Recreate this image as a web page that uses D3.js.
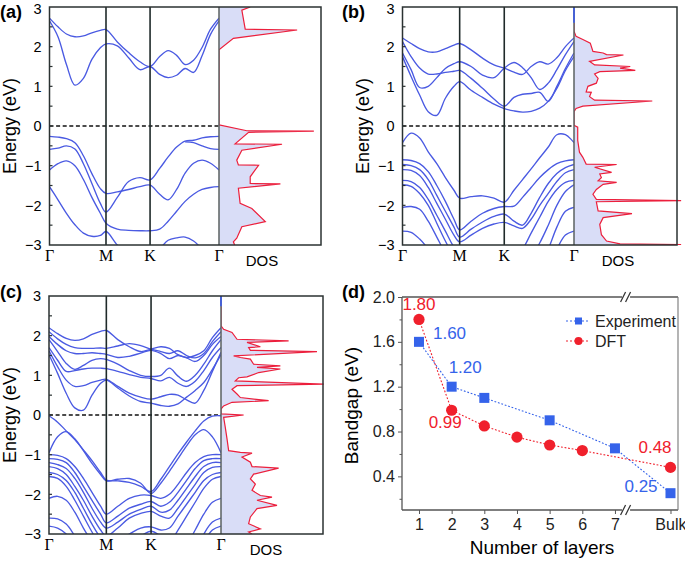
<!DOCTYPE html>
<html><head><meta charset="utf-8">
<script src="https://cdn.jsdelivr.net/npm/d3@7"></script>
<style>body{margin:0;background:#fff}svg{display:block}</style>
</head><body>
<svg id="chart" width="685" height="561"></svg>
<script>
// ---------------- DATA ----------------
const kNodes = [0, 1, 1.78, 3];
const kLabels = ["Γ", "M", "K", "Γ"];
const kGrid = [0,0.15,0.3,0.45,0.6,0.75,0.9,1.0,1.2,1.4,1.6,1.78,1.95,2.1,2.25,2.4,2.55,2.7,2.85,3.0];
const energyTicks = [3,2,1,0,-1,-2,-3];
const N = null;

// (a) monolayer bands
const bandsA = [
  [2.65,2.25,1.55,1.03,1.2,1.68,1.97,2.07,2.02,1.72,1.42,1.5,1.3,1.22,1.28,1.45,1.35,1.77,2.31,2.65],
  [2.72,2.5,2.32,2.25,2.27,2.35,2.41,2.43,2.12,1.85,1.62,1.5,1.75,1.9,1.78,1.55,1.66,1.98,2.44,2.72],
  [-0.26,-0.28,-0.32,-0.42,-0.75,-1.2,-1.58,-1.7,-1.66,-1.6,-1.53,-1.49,-1.72,-1.86,-1.6,-1.19,-0.94,-0.86,-0.94,-1.11],
  [-0.59,-0.56,-0.5,-0.58,-0.95,-1.45,-1.95,-2.17,-1.8,-1.4,-1.3,-1.36,-1.07,-0.78,-0.53,-0.38,-0.36,-0.3,-0.27,-0.26],
  [N,N,N,N,N,N,N,N,N,N,N,N,N,N,N,-0.4,-0.42,-0.5,-0.57,-0.59],
  [-1.11,-0.95,-0.88,-1.0,-1.35,-1.8,-2.2,-2.45,-2.6,-2.63,-2.64,-2.64,-2.6,-2.4,-2.15,-1.9,-1.72,-1.6,-1.55,-1.53],
  [-1.53,-1.86,-2.2,-2.49,-2.7,-2.78,-2.76,-2.66,-3.0,-3.25,-3.3,-3.3,-3.1,-2.88,-2.82,-2.8,-2.9,-3.1,-3.3,-3.4]
];
const dosEA = [3.0,2.92,2.44,2.42,2.21,1.92,0.03,-0.12,-0.13,-0.16,-0.45,-0.46,-0.61,-0.86,-0.98,-0.99,-1.28,-1.45,-1.46,-1.57,-1.95,-2.08,-2.41,-2.54,-2.83,-2.92,-3.03];
const dosVA = [30.6,22.4,25.7,76.6,14.1,0,0,27.3,93,29,15.8,61.8,22.4,17.4,19,38.8,30.6,30.6,60.2,19,20.7,32.2,45.4,22.4,17.4,14.1,15.8];

// (b) bilayer bands
const bandsB = [
  [2.22,2.08,1.95,1.87,1.87,1.95,2.04,2.08,1.92,1.71,1.54,1.46,1.36,1.3,1.5,1.62,1.56,1.72,2.0,2.22],
  [2.13,1.75,1.46,1.31,1.31,1.35,1.38,1.4,1.2,0.95,0.68,0.5,0.72,0.8,0.82,0.85,0.62,1.0,1.45,1.84],
  [1.84,1.42,0.97,1.0,1.22,1.45,1.57,1.62,1.5,1.28,1.22,1.46,1.6,1.47,1.22,0.92,1.08,1.42,1.8,2.13],
  [1.75,1.25,0.78,0.36,0.27,0.7,1.0,1.12,0.9,0.72,0.55,0.44,0.38,0.35,0.37,0.45,0.62,0.95,1.4,1.75],
  [-0.42,-0.18,-0.3,-0.65,-0.95,-1.3,-1.62,-1.82,-1.78,-1.76,-1.82,-1.92,-1.62,-1.35,-1.08,-0.8,-0.53,-0.22,-0.22,-0.42],
  [-0.85,-0.87,-0.95,-1.15,-1.5,-1.9,-2.35,-2.62,-2.4,-2.2,-2.08,-2.03,-2.02,-1.8,-1.55,-1.3,-1.1,-0.95,-0.88,-0.85],
  [-0.97,-1.0,-1.1,-1.35,-1.75,-2.15,-2.55,-2.8,-2.6,-2.42,-2.28,-2.22,-2.4,-2.5,-2.2,-1.8,-1.45,-1.2,-1.05,-0.97],
  [-1.1,-1.12,-1.25,-1.55,-1.95,-2.35,-2.75,-2.92,-2.75,-2.58,-2.47,-2.43,-2.52,-2.58,-2.35,-2.0,-1.7,-1.4,-1.18,-1.1],
  [-1.37,-1.4,-1.55,-1.85,-2.25,-2.65,-3.05,-3.2,-3.3,-3.35,-3.35,-3.35,-3.3,-3.1,-2.7,-2.3,-1.9,-1.6,-1.42,-1.37],
  [-1.48,-1.52,-1.7,-2.0,-2.45,-2.9,-3.3,-3.5,-3.5,-3.5,-3.5,-3.5,-3.5,-3.45,-3.3,-2.95,-2.5,-2.0,-1.65,-1.48],
  [-2.05,-2.03,-2.1,-2.4,-2.8,-3.2,-3.5,-3.6,-3.6,-3.6,-3.6,-3.6,-3.6,-3.6,-3.6,-3.5,-3.1,-2.55,-2.15,-2.05],
  [-2.65,-2.68,-2.85,-3.1,-3.4,-3.6,-3.6,-3.6,-3.6,-3.6,-3.6,-3.6,-3.6,-3.6,-3.6,-3.6,-3.5,-3.1,-2.75,-2.65]
];
const dosEB = [2.6,2.39,2.26,2.18,2.09,1.88,1.84,1.8,1.79,1.63,1.54,1.5,1.46,1.4,1.37,1.31,1.2,1.08,1.0,0.86,0.85,0.74,0.65,0.63,0.5,0.44,0.36,0.02,-0.03,-0.36,-0.66,-0.79,-0.96,-0.97,-1.04,-1.17,-1.21,-1.3,-1.38,-1.42,-1.47,-1.6,-1.72,-1.85,-1.88,-1.91,-2.14,-2.21,-2.31,-2.48,-2.74,-2.9,-2.97,-2.99];
const dosVB = [0,0,2,8.6,15.8,18.4,28.3,31.6,48,15.1,20,54.6,44.7,59.5,25,20,23.4,21.7,13.5,11.8,16.8,15.1,20,76,8.6,2,0,0,3.6,3.6,5.3,8.6,11.8,41.4,20,36.5,25,26.6,23.4,41.4,28.3,21.7,18.4,21.7,104,21.7,23.4,56.3,28.3,25,26.6,31.6,44.7,104];

// (c) trilayer bands
const bandsC = [
  [2.2,2.05,1.93,1.88,1.92,2.03,2.11,2.13,1.9,1.72,1.6,1.66,1.72,1.68,1.52,1.45,1.5,1.62,1.95,2.2],
  [2.1,1.92,1.78,1.7,1.68,1.68,1.69,1.68,1.74,1.8,1.75,1.66,1.6,1.55,1.62,1.5,1.44,1.55,1.85,2.1],
  [1.98,1.78,1.62,1.55,1.55,1.57,1.55,1.53,1.45,1.48,1.56,1.63,1.55,1.42,1.5,1.44,1.35,1.5,1.78,1.98],
  [1.9,1.6,1.3,1.15,1.25,1.38,1.42,1.4,1.28,1.12,1.0,0.97,1.0,1.18,0.98,0.85,1.0,1.28,1.62,1.9],
  [1.7,1.38,1.1,1.12,1.16,1.18,1.18,1.17,1.1,1.02,0.95,0.92,0.86,0.95,0.8,0.72,0.85,1.12,1.45,1.7],
  [1.62,1.22,0.88,0.72,0.74,0.82,0.88,0.9,0.72,0.55,0.45,0.4,0.46,0.52,0.5,0.38,0.3,0.62,1.1,1.58],
  [1.52,1.05,0.55,0.18,0.12,0.5,0.8,0.88,0.68,0.48,0.34,0.3,0.24,0.22,0.28,0.45,0.62,0.82,1.15,1.52],
  [-0.02,-0.18,-0.4,-0.62,-0.88,-1.15,-1.45,-1.64,-1.66,-1.7,-1.8,-1.93,-1.62,-1.3,-0.98,-0.68,-0.4,-0.15,-0.03,-0.02],
  [-0.95,-0.55,-0.42,-0.6,-0.9,-1.22,-1.5,-1.66,-1.62,-1.6,-1.72,-1.98,-1.72,-1.42,-1.1,-0.78,-0.5,-0.37,-0.55,-0.95],
  [-1.0,-1.02,-1.1,-1.3,-1.6,-1.95,-2.3,-2.5,-2.3,-2.1,-2.02,-2.03,-2.1,-2.0,-1.75,-1.45,-1.2,-1.05,-1.0,-1.0],
  [-1.1,-1.12,-1.2,-1.45,-1.8,-2.15,-2.5,-2.72,-2.55,-2.35,-2.25,-2.18,-2.3,-2.2,-1.95,-1.65,-1.35,-1.15,-1.1,-1.1],
  [-1.2,-1.25,-1.35,-1.6,-1.95,-2.35,-2.7,-2.85,-2.7,-2.5,-2.38,-2.3,-2.45,-2.4,-2.15,-1.85,-1.55,-1.3,-1.2,-1.2],
  [-1.3,-1.35,-1.5,-1.8,-2.15,-2.55,-2.9,-3.05,-2.85,-2.6,-2.48,-2.43,-2.55,-2.6,-2.35,-2.05,-1.75,-1.45,-1.32,-1.3],
  [-1.45,-1.5,-1.65,-1.95,-2.35,-2.75,-3.1,-3.25,-3.15,-3.0,-2.85,-2.82,-2.9,-2.85,-2.55,-2.25,-1.95,-1.65,-1.5,-1.45],
  [-1.55,-1.6,-1.8,-2.15,-2.55,-2.95,-3.3,-3.4,-3.3,-3.2,-3.1,-3.05,-3.1,-3.2,-2.9,-2.55,-2.2,-1.85,-1.62,-1.55],
  [-2.1,-2.05,-2.15,-2.45,-2.85,-3.2,-3.5,-3.6,-3.6,-3.6,-3.6,-3.6,-3.6,-3.6,-3.6,-3.3,-2.9,-2.5,-2.2,-2.1],
  [-2.6,-2.62,-2.75,-3.05,-3.4,-3.6,-3.6,-3.6,-3.6,-3.6,-3.6,-3.6,-3.6,-3.6,-3.6,-3.6,-3.4,-3.0,-2.7,-2.6],
  [-2.8,-2.85,-3.0,-3.3,-3.6,-3.6,-3.6,-3.6,-3.6,-3.6,-3.6,-3.6,-3.6,-3.6,-3.6,-3.6,-3.6,-3.2,-2.9,-2.8],
  [N,N,N,N,N,N,N,N,N,-3.2,-3.05,-2.93,-3.05,-3.2,N,N,N,N,N,N]
];
const dosEC = [2.74,2.25,2.16,2.08,1.91,1.87,1.83,1.72,1.7,1.63,1.6,1.49,1.45,1.41,1.28,1.24,1.2,1.16,1.07,0.96,0.94,0.86,0.78,0.74,0.65,0.53,0.44,0.36,0.32,0.23,0.15,0.03,0.0,-0.06,-0.31,-0.6,-0.9,-0.94,-0.96,-1.06,-1.19,-1.3,-1.34,-1.49,-1.61,-1.74,-1.9,-2.03,-2.07,-2.15,-2.28,-2.36,-2.57,-2.74,-2.87,-2.95,-3.0];
const dosVC = [0,0,2.6,10.8,15.7,66.3,25.5,38.6,27.1,28.8,94.1,12.4,19,28.8,32,58.2,35.3,58.2,36.9,25.5,17.3,14,100.7,15.7,10.8,15.7,19,46.7,10.8,2.6,0,0,22.2,2.6,4.2,5.9,7.5,19,30.4,20.6,28.8,30.4,56.5,32,28.8,33.7,30.4,38.6,50,35.3,54.9,35.3,28.8,27.1,38.6,27.1,30.4];

// (d) bandgap vs layers
const layerLabels = ["1","2","3","4","5","6","7","Bulk"];
const layerPos = [1,2,3,4,5,6,7,8.7];
const expLayers = ["1","2","3","5","7","Bulk"];
const expGap = [1.60,1.20,1.10,0.90,0.65,0.25];
const dftLayers = ["1","2","3","4","5","6","Bulk"];
const dftGap = [1.80,0.99,0.85,0.75,0.68,0.63,0.48];
const gapTicks = [0.4,0.8,1.2,1.6,2.0];
const gapMinor = [0.2,0.6,1.0,1.4,1.8];
const expLabelled = ["1", "2", "Bulk"];
const dftLabelled = ["1", "2", "Bulk"];

// ---------------- DRAW ----------------
const svg = d3.select("#chart");
const SANS = "'Liberation Sans', Arial, sans-serif";
const SERIF = "'Liberation Serif', 'Times New Roman', serif";
const BAND = "#4a5ae2", DOSC = "#ec1f3c", FILL = "#d9ddf7";
const defs = svg.append("defs");

function bandPanel(o) {
  const g = svg.append("g");
  const x = d3.scaleLinear().domain([0, 3]).range([o.left, o.gx]);
  const y = d3.scaleLinear().domain([-3, 3]).range([o.bottom, o.top]);
  const xd = d3.scaleLinear().domain([0, 100]).range([o.gx, o.right]);
  defs.append("clipPath").attr("id", "cb" + o.name).append("rect")
    .attr("x", o.left).attr("y", o.top).attr("width", o.gx - o.left).attr("height", o.bottom - o.top);
  defs.append("clipPath").attr("id", "cd" + o.name).append("rect")
    .attr("x", o.gx).attr("y", o.top).attr("width", 685 - o.gx).attr("height", o.bottom - o.top);

  const dos = o.dosE.map((e, i) => [e, o.dosV[i]]);
  const dg = g.append("g").attr("clip-path", `url(#cd${o.name})`);
  dg.append("path").datum(dos)
    .attr("d", d3.area().y(d => y(d[0])).x0(o.gx).x1(d => xd(d[1])))
    .attr("fill", FILL);

  // zero line
  g.append("line").attr("x1", o.left).attr("x2", o.gx).attr("y1", y(0)).attr("y2", y(0))
    .attr("stroke", "#111").attr("stroke-width", 1.7).attr("stroke-dasharray", "4,2.6");

  // bands
  const line = d3.line().defined(d => d[1] != null)
    .x(d => x(d[0])).y(d => y(d[1])).curve(d3.curveCatmullRom.alpha(0.5));
  const bg = g.append("g").attr("clip-path", `url(#cb${o.name})`);
  o.bands.forEach(b => {
    bg.append("path").datum(kGrid.map((k, i) => [k, b[i]]))
      .attr("d", line).attr("fill", "none").attr("stroke", BAND).attr("stroke-width", 1.35);
  });

  // high-symmetry lines
  [kNodes[1], kNodes[2]].forEach(k => {
    g.append("line").attr("x1", x(k)).attr("x2", x(k)).attr("y1", o.top).attr("y2", o.bottom)
      .attr("stroke", "#1f2a2a").attr("stroke-width", 1.6);
  });
  g.append("line").attr("x1", o.gx).attr("x2", o.gx).attr("y1", o.top).attr("y2", o.bottom)
    .attr("stroke", "#5a6060").attr("stroke-width", 1.5);
  if (o.blueTop != null) {
    g.append("line").attr("x1", o.gx).attr("x2", o.gx).attr("y1", o.top).attr("y2", y(o.blueTop))
      .attr("stroke", "#3355ee").attr("stroke-width", 1.5);
  }
  // DOS curve
  dg.append("path").datum(dos)
    .attr("d", d3.line().x(d => xd(d[1])).y(d => y(d[0])))
    .attr("fill", "none").attr("stroke", DOSC).attr("stroke-width", 1.2);

  // frame
  g.append("rect").attr("x", o.left).attr("y", o.top).attr("width", o.right - o.left).attr("height", o.bottom - o.top)
    .attr("fill", "none").attr("stroke", "#2b3232").attr("stroke-width", 1.5);
  // inner minor ticks
  d3.range(-2.5, 3, 0.5).forEach(e => {
    g.append("line").attr("x1", o.left).attr("x2", o.left + 3).attr("y1", y(e)).attr("y2", y(e))
      .attr("stroke", "#2b3232").attr("stroke-width", 1.2);
  });
  // tick labels
  energyTicks.forEach(e => {
    g.append("text").attr("x", o.left - 8).attr("y", Math.max(y(e), 9)).attr("dy", "0.36em")
      .attr("text-anchor", "end").attr("font-family", SANS).attr("font-size", 14.5)
      .text(e < 0 ? "\u2212" + Math.abs(e) : e);
  });
  // k labels
  kNodes.forEach((k, i) => {
    g.append("text").attr("x", x(k)).attr("y", o.bottom + 16).attr("text-anchor", "middle")
      .attr("font-family", SERIF).attr("font-size", 16).text(kLabels[i]);
  });
  g.append("text").attr("x", o.dosLabelX).attr("y", o.bottom + 21).attr("text-anchor", "middle")
    .attr("font-family", SANS).attr("font-size", 15).text("DOS");
  // y title
  g.append("text").attr("transform", `translate(${o.titleX},${(o.top + o.bottom) / 2}) rotate(-90)`)
    .attr("text-anchor", "middle").attr("font-family", SANS).attr("font-size", 18).text("Energy (eV)");
  // panel label
  g.append("text").attr("x", o.labelX).attr("y", o.labelY).attr("font-family", SANS)
    .attr("font-size", 18).attr("font-weight", "bold").text(o.label);
}

bandPanel({name: "a", left: 49.5, gx: 219, right: 321, top: 7, bottom: 245, bands: bandsA,
  dosE: dosEA, dosV: dosVA, blueTop: null, dosLabelX: 262, titleX: 16, label: "(a)", labelX: 0, labelY: 18});
bandPanel({name: "b", left: 402.5, gx: 574, right: 677, top: 7, bottom: 245, bands: bandsB,
  dosE: dosEB, dosV: dosVB, blueTop: 2.6, dosLabelX: 618, titleX: 369, label: "(b)", labelX: 342, labelY: 18});
bandPanel({name: "c", left: 49, gx: 221, right: 323, top: 296, bottom: 534, bands: bandsC,
  dosE: dosEC, dosV: dosVC, blueTop: 2.74, dosLabelX: 266, titleX: 16, label: "(c)", labelX: 0, labelY: 298});

// ---------------- PANEL (d) ----------------
(function () {
  const g = svg.append("g");
  const L = 402, R = 678, T = 297, B = 510;
  const x = d3.scaleLinear().domain([0.48, 8.93]).range([L, R]);
  const y = d3.scaleLinear().domain([0.1, 2.0]).range([B, T]);
  const posOf = lab => layerPos[layerLabels.indexOf(lab)];
  const BLUE = "#3563ea", RED = "#f0202c";
  const brk = x(7.34);

  // frame lines with breaks
  [T, B].forEach(yy => {
    g.append("line").attr("x1", L).attr("x2", brk - 4).attr("y1", yy).attr("y2", yy).attr("stroke", "#555").attr("stroke-width", 1.3);
    g.append("line").attr("x1", brk + 4).attr("x2", R).attr("y1", yy).attr("y2", yy).attr("stroke", "#555").attr("stroke-width", 1.3);
    [-3, 2].forEach(dx => {
      g.append("line").attr("x1", brk + dx - 2.5).attr("x2", brk + dx + 2.5).attr("y1", yy + 5).attr("y2", yy - 5)
        .attr("stroke", "#333").attr("stroke-width", 1.2);
    });
  });
  g.append("line").attr("x1", L).attr("x2", L).attr("y1", T).attr("y2", B).attr("stroke", "#555").attr("stroke-width", 1.3);
  g.append("line").attr("x1", R).attr("x2", R).attr("y1", T).attr("y2", B).attr("stroke", "#777").attr("stroke-width", 1.1);

  // y axis ticks
  const ya = g.append("g").attr("transform", `translate(${L},0)`)
    .call(d3.axisLeft(y).tickValues(gapTicks).tickFormat(d3.format(".1f")).tickSize(4).tickPadding(3));
  ya.select(".domain").remove();
  ya.selectAll("text").attr("font-family", SANS).attr("font-size", 16).attr("fill", "#222");
  ya.selectAll("line").attr("stroke", "#555");
  const ym = g.append("g").attr("transform", `translate(${L},0)`)
    .call(d3.axisLeft(y).tickValues(gapMinor).tickFormat("").tickSize(2.5));
  ym.select(".domain").remove();
  ym.selectAll("line").attr("stroke", "#555");
  // x axis ticks
  const xa = g.append("g").attr("transform", `translate(0,${B})`)
    .call(d3.axisBottom(x).tickValues(layerPos).tickFormat((d, i) => layerLabels[i]).tickSize(4).tickPadding(5));
  xa.select(".domain").remove();
  xa.selectAll("text").attr("font-family", SANS).attr("font-size", 16).attr("fill", "#222");
  xa.selectAll("text").filter(d => d === 8.7).attr("text-anchor", "end").attr("dx", "15.5px");
  xa.selectAll("line").attr("stroke", "#555");

  // titles
  g.append("text").attr("transform", `translate(358,${(T + B) / 2 + 2}) rotate(-90)`).attr("text-anchor", "middle")
    .attr("font-family", SANS).attr("font-size", 19).text("Bandgap (eV)");
  g.append("text").attr("x", 542).attr("y", 554).attr("text-anchor", "middle")
    .attr("font-family", SANS).attr("font-size", 19).text("Number of layers");
  g.append("text").attr("x", 342).attr("y", 298).attr("font-family", SANS)
    .attr("font-size", 18).attr("font-weight", "bold").text("(d)");

  const expPts = expLayers.map((l, i) => [posOf(l), expGap[i], l]);
  const dftPts = dftLayers.map((l, i) => [posOf(l), dftGap[i], l]);
  const ln = d3.line().x(d => x(d[0])).y(d => y(d[1]));
  g.append("path").datum(expPts).attr("d", ln).attr("fill", "none").attr("stroke", BLUE)
    .attr("stroke-width", 1.1).attr("stroke-dasharray", "1.8,1.8");
  g.append("path").datum(dftPts).attr("d", ln).attr("fill", "none").attr("stroke", RED)
    .attr("stroke-width", 1.1).attr("stroke-dasharray", "1.8,1.8");
  g.selectAll(".sq").data(expPts).enter().append("rect")
    .attr("x", d => x(d[0]) - 5).attr("y", d => y(d[1]) - 5).attr("width", 10).attr("height", 10).attr("fill", BLUE);
  g.selectAll(".ci").data(dftPts).enter().append("circle")
    .attr("cx", d => x(d[0])).attr("cy", d => y(d[1])).attr("r", 5.6).attr("fill", RED);

  // value labels
  const expOff = {"1": [14, -9, "start"], "2": [-3, -20, "start"], "Bulk": [-46, -7, "start"]};
  const dftOff = {"1": [0, -16, "middle"], "2": [-23, 12, "start"], "Bulk": [-32, -21, "start"]};
  expPts.filter(d => expLabelled.includes(d[2])).forEach(d => {
    const o = expOff[d[2]];
    g.append("text").attr("x", x(d[0]) + o[0]).attr("y", y(d[1]) + o[1]).attr("dy", "0.36em")
      .attr("text-anchor", o[2]).attr("font-family", SANS).attr("font-size", 17).attr("fill", BLUE).text(d[1].toFixed(2));
  });
  dftPts.filter(d => dftLabelled.includes(d[2])).forEach(d => {
    const o = dftOff[d[2]];
    g.append("text").attr("x", x(d[0]) + o[0]).attr("y", y(d[1]) + o[1]).attr("dy", "0.36em")
      .attr("text-anchor", o[2]).attr("font-family", SANS).attr("font-size", 17).attr("fill", RED).text(d[1].toFixed(2));
  });

  // legend
  const leg = [["Experiment", BLUE, "sq", 321], ["DFT", RED, "ci", 341]];
  leg.forEach(([t, c, m, yy]) => {
    g.append("line").attr("x1", 566).attr("x2", 590).attr("y1", yy).attr("y2", yy).attr("stroke", c)
      .attr("stroke-width", 1.1).attr("stroke-dasharray", "2,2");
    if (m === "sq") g.append("rect").attr("x", 575).attr("y", yy - 3.5).attr("width", 7).attr("height", 7).attr("fill", c);
    else g.append("circle").attr("cx", 578.5).attr("cy", yy).attr("r", 4).attr("fill", c);
    g.append("text").attr("x", 595).attr("y", yy).attr("dy", "0.36em").attr("font-family", SANS)
      .attr("font-size", 16).attr("fill", "#222").text(t);
  });
})();
</script>
</body></html>
